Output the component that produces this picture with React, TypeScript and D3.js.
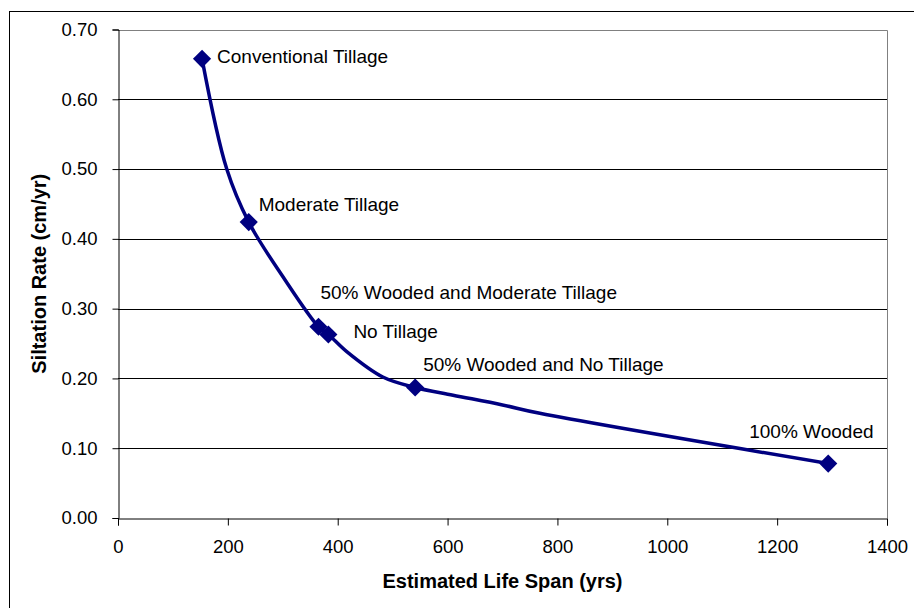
import React, {useEffect, useRef} from 'react';
import * as d3 from 'd3';

// marker points (scenarios)
const scenarios = [
    'Conventional Tillage',
    'Moderate Tillage',
    '50% Wooded and Moderate Tillage',
    'No Tillage',
    '50% Wooded and No Tillage',
    '100% Wooded'
];
const lifeSpan = [153, 238, 365, 383, 541, 1293];
const siltRate = [0.658, 0.424, 0.274, 0.263, 0.187, 0.078];

// smoothed trend line
const lineSpan = [153, 198, 238, 300, 365, 383, 417, 482, 541, 610, 700, 768, 1293];
const lineRate = [0.658, 0.50, 0.424, 0.346, 0.274, 0.263, 0.238, 0.202, 0.187, 0.176, 0.162, 0.150, 0.078];

const xTicks = [0, 200, 400, 600, 800, 1000, 1200, 1400];
const yTicks = [0, 0.1, 0.2, 0.3, 0.4, 0.5, 0.6, 0.7];

// label offsets from the marker, px
const labelOffsets = [[15, 4], [10, -11], [2, -28], [25, 4], [8, -17], [-79, -26]];

const W = 914, H = 608;
const FONT = '"Liberation Sans", Arial, sans-serif';
const NAVY = '#000080';

export default function App() {
    const ref = useRef<SVGSVGElement>(null);

    useEffect(() => {
        const svg = d3.select(ref.current);
        svg.selectAll('*').remove();

        const x = d3.scaleLinear().domain([0, 1400]).range([118, 887]);
        const y = d3.scaleLinear().domain([0, 0.7]).range([518, 29.5]);

        svg.append('rect').attr('width', W).attr('height', H).attr('fill', '#fff');
        // outer chart frame
        svg.append('rect')
            .attr('x', 9.5).attr('y', 11.5).attr('width', 1000).attr('height', 1000)
            .attr('fill', 'none').attr('stroke', '#000').attr('stroke-width', 1);

        // gridlines
        svg.append('g').selectAll('line')
            .data(yTicks.slice(1, -1))
            .enter().append('line')
            .attr('x1', x(0)).attr('x2', x(1400))
            .attr('y1', d => Math.round(y(d)) + 0.5).attr('y2', d => Math.round(y(d)) + 0.5)
            .attr('stroke', '#000').attr('stroke-width', 1);

        // plot border top/right
        svg.append('path')
            .attr('d', `M${x(0)},${Math.round(y(0.7)) + 0.5}H${Math.round(x(1400)) + 0.5}V${y(0)}`)
            .attr('fill', 'none').attr('stroke', '#808080').attr('stroke-width', 1);

        const yAxis = svg.append('g')
            .attr('transform', `translate(${Math.round(x(0)) + 0.5},0)`)
            .call(d3.axisLeft(y).tickValues(yTicks).tickSize(6).tickPadding(15).tickFormat(d3.format('.2f')));
        const xAxis = svg.append('g')
            .attr('transform', `translate(0,${Math.round(y(0)) + 0.5})`)
            .call(d3.axisBottom(x).tickValues(xTicks).tickSize(7).tickPadding(14).tickFormat(d3.format('d')));
        [xAxis, yAxis].forEach(a => {
            a.select('.domain').attr('stroke', '#000');
            a.selectAll('.tick line').attr('stroke', '#000');
            a.selectAll('text').attr('font-family', FONT).attr('font-size', 18.5).attr('fill', '#000');
        });

        // smoothed line
        const line = d3.line<number>()
            .x((d, i) => x(lineSpan[i]))
            .y((d, i) => y(lineRate[i]))
            .curve(d3.curveCatmullRom.alpha(0.5));
        svg.append('path')
            .datum(lineSpan)
            .attr('d', line)
            .attr('fill', 'none').attr('stroke', NAVY).attr('stroke-width', 3.5)
            .attr('stroke-linejoin', 'round');

        // markers
        const diamond = d3.symbol().type(d3.symbolSquare).size(165);
        svg.append('g').selectAll('path')
            .data(scenarios)
            .enter().append('path')
            .attr('d', diamond)
            .attr('transform', (d, i) => `translate(${x(lifeSpan[i])},${y(siltRate[i])}) rotate(45)`)
            .attr('fill', NAVY);

        // point labels
        svg.append('g').selectAll('text')
            .data(scenarios)
            .enter().append('text')
            .attr('x', (d, i) => x(lifeSpan[i]) + labelOffsets[i][0])
            .attr('y', (d, i) => y(siltRate[i]) + labelOffsets[i][1])
            .attr('font-family', FONT).attr('font-size', 19)
            .text(d => d);

        // axis titles
        svg.append('text')
            .attr('x', (x(0) + x(1400)) / 2).attr('y', 588)
            .attr('text-anchor', 'middle')
            .attr('font-family', FONT).attr('font-size', 20).attr('font-weight', 'bold')
            .text('Estimated Life Span (yrs)');
        svg.append('text')
            .attr('transform', `translate(46,${(y(0) + y(0.7)) / 2}) rotate(-90)`)
            .attr('text-anchor', 'middle')
            .attr('font-family', FONT).attr('font-size', 20).attr('font-weight', 'bold')
            .text('Siltation Rate (cm/yr)');
    }, []);

    return (
        <svg ref={ref} width={W} height={H}
             style={{position: 'absolute', left: 0, top: 0, display: 'block'}}/>
    );
}
